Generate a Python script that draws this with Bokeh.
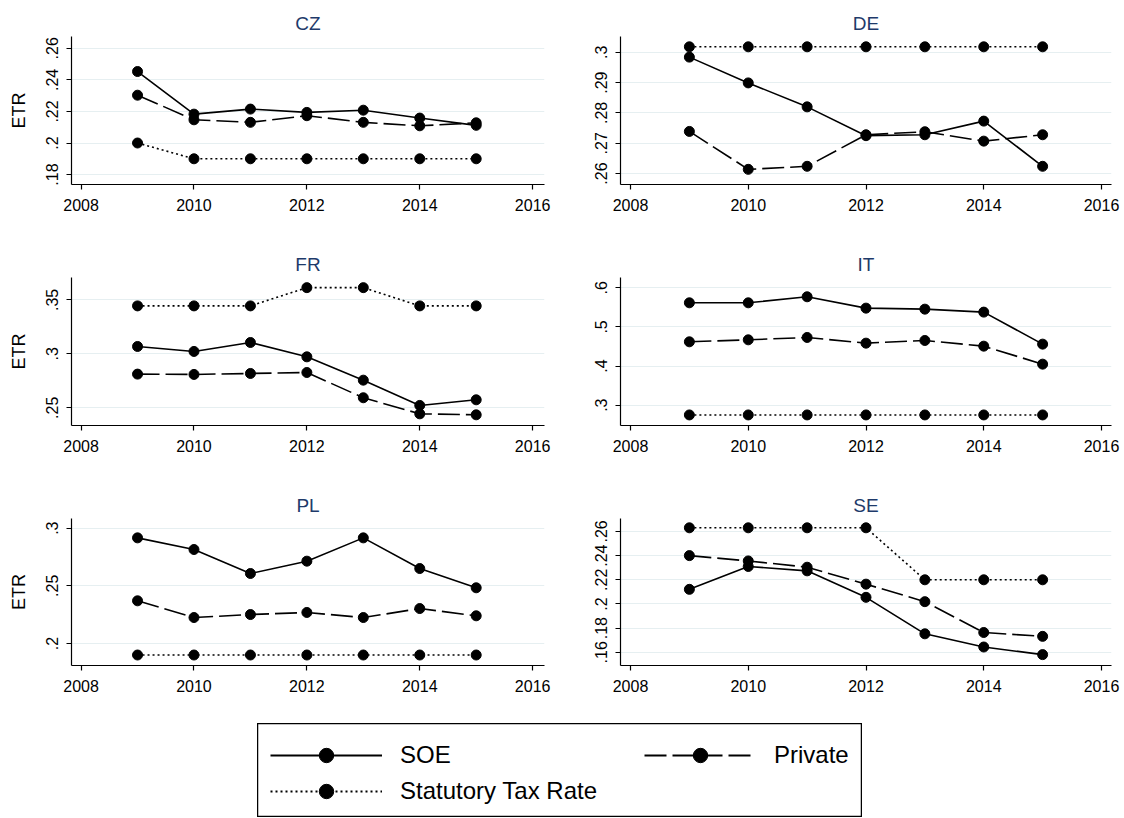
from bokeh.plotting import figure
from bokeh.models import (ColumnDataSource, FixedTicker, CustomJSTickFormatter,
                          Range1d, Legend, LegendItem, Spacer)
from bokeh.layouts import column, row
from bokeh.embed import file_html
from bokeh.resources import INLINE

# ---------------- data ----------------
years = [2009, 2010, 2011, 2012, 2013, 2014, 2015]
x_ticks = [2008, 2010, 2012, 2014, 2016]

cz_soe = [0.2453, 0.2183, 0.2215, 0.2194, 0.2208, 0.2158, 0.2112]
cz_private = [0.2303, 0.2147, 0.2131, 0.2173, 0.2131, 0.2109, 0.2128]
cz_statutory = [0.20, 0.19, 0.19, 0.19, 0.19, 0.19, 0.19]

de_soe = [0.2984, 0.2899, 0.2820, 0.2725, 0.2728, 0.2773, 0.2624]
de_private = [0.2739, 0.2614, 0.2624, 0.2728, 0.2738, 0.2707, 0.2728]
de_statutory = [0.3018, 0.3018, 0.3018, 0.3018, 0.3018, 0.3018, 0.3018]

fr_soe = [0.3068, 0.3022, 0.3105, 0.2972, 0.2756, 0.2522, 0.2574]
fr_private = [0.2812, 0.2809, 0.2818, 0.2827, 0.2593, 0.2444, 0.2435]
fr_statutory = [0.3444, 0.3444, 0.3444, 0.3613, 0.3613, 0.3444, 0.3444]

it_soe = [0.5616, 0.5616, 0.5770, 0.5480, 0.5454, 0.5378, 0.4560]
it_private = [0.4619, 0.4670, 0.4730, 0.4585, 0.4653, 0.4508, 0.4048]
it_statutory = [0.2750, 0.2750, 0.2750, 0.2750, 0.2750, 0.2750, 0.2750]

pl_soe = [0.2916, 0.2815, 0.2607, 0.2714, 0.2916, 0.2650, 0.2483]
pl_private = [0.2370, 0.2225, 0.2251, 0.2269, 0.2225, 0.2303, 0.2240]
pl_statutory = [0.19, 0.19, 0.19, 0.19, 0.19, 0.19, 0.19]

se_soe = [0.2121, 0.2310, 0.2274, 0.2055, 0.1753, 0.1644, 0.1581]
se_private = [0.2400, 0.2356, 0.2304, 0.2164, 0.2019, 0.1764, 0.1732]
se_statutory = [0.263, 0.263, 0.263, 0.263, 0.22, 0.22, 0.22]

cz_yticks = [0.18, 0.20, 0.22, 0.24, 0.26]
de_yticks = [0.26, 0.27, 0.28, 0.29, 0.30]
fr_yticks = [0.25, 0.30, 0.35]
it_yticks = [0.3, 0.4, 0.5, 0.6]
pl_yticks = [0.20, 0.25, 0.30]
se_yticks = [0.16, 0.18, 0.20, 0.22, 0.24, 0.26]

series_names = ["SOE", "Private", "Statutory Tax Rate"]

# ---------------- styling ----------------
FONT = "Liberation Sans"
TITLE_COLOR = "#1e3a6a"
GRID_COLOR = "#e6eff1"
SOE_DASH = "solid"
PRIV_DASH = "22 6"
STAT_DASH = "2 3"
LW = 1.6
MSIZE = 10

fmt = CustomJSTickFormatter(code="""
var s = (Math.round(tick*1000)/1000).toString();
return s.replace(/^0\\./, '.');
""")

panels = [
    ("CZ", cz_soe, cz_private, cz_statutory, cz_yticks, (0.1737, 0.2675)),
    ("DE", de_soe, de_private, de_statutory, de_yticks, (0.2564, 0.3052)),
    ("FR", fr_soe, fr_private, fr_statutory, fr_yticks, (0.2336, 0.3707)),
    ("IT", it_soe, it_private, it_statutory, it_yticks, (0.2480, 0.6263)),
    ("PL", pl_soe, pl_private, pl_statutory, pl_yticks, (0.1809, 0.3084)),
    ("SE", se_soe, se_private, se_statutory, se_yticks, (0.1491, 0.2707)),
]

x_ranges = [(2007.83, 2016.21), (2007.83, 2016.17)]
row_geom = [(36, 148, 56), (37, 148, 56), (37, 147, 58)]   # top, frame h, bottom
col_geom = [(71, 473, 31), (45, 491, 13)]                  # left, frame w, right


def make_panel(i, name, soe, priv, stat, yticks, yr):
    r, c = divmod(i, 2)
    top, fh, bottom = row_geom[r]
    left, fw, right = col_geom[c]
    p = figure(frame_width=fw, frame_height=fh,
               min_border_left=left, min_border_right=right,
               min_border_top=top, min_border_bottom=bottom,
               x_range=Range1d(*x_ranges[c]), y_range=Range1d(*yr),
               output_backend="svg", toolbar_location=None, title=name)
    p.outline_line_color = None
    p.background_fill_color = "white"
    p.border_fill_color = "white"

    p.title.text_font = FONT
    p.title.text_font_size = "19px"
    p.title.text_font_style = "normal"
    p.title.text_color = TITLE_COLOR
    p.title.align = "center"
    p.title.standoff = 6

    p.xaxis.ticker = FixedTicker(ticks=x_ticks)
    p.yaxis.ticker = FixedTicker(ticks=yticks)
    p.yaxis.formatter = fmt
    p.yaxis.major_label_orientation = "vertical"
    for ax in (p.xaxis, p.yaxis):
        ax.axis_line_color = "black"
        ax.axis_line_width = 1.2
        ax.major_tick_line_color = "black"
        ax.major_tick_line_width = 1.2
        ax.major_tick_out = 5
        ax.major_tick_in = 0
        ax.minor_tick_line_color = None
        ax.major_label_text_font = FONT
        ax.major_label_text_font_size = "16px"
        ax.major_label_text_color = "black"
    p.xaxis.major_label_standoff = 9
    p.yaxis.major_label_standoff = 8
    if c == 0:
        p.yaxis.axis_label = "ETR"
        p.yaxis.axis_label_text_font = FONT
        p.yaxis.axis_label_text_font_size = "18px"
        p.yaxis.axis_label_text_font_style = "normal"
        p.yaxis.axis_label_text_color = "black"
        p.yaxis.axis_label_standoff = 15

    p.xgrid.grid_line_color = None
    p.ygrid.grid_line_color = GRID_COLOR
    p.ygrid.grid_line_width = 1.2

    src = ColumnDataSource(dict(year=years, soe=soe, priv=priv, stat=stat))
    for col, dash in (("stat", STAT_DASH), ("priv", PRIV_DASH), ("soe", SOE_DASH)):
        p.line("year", col, source=src, line_color="black", line_width=LW, line_dash=dash)
        p.scatter("year", col, source=src, size=MSIZE, marker="circle",
                  fill_color="black", line_color="black")
    return p


figs = [make_panel(i, *pn) for i, pn in enumerate(panels)]

# ---------------- legend ----------------
LEG_H = 94
lf = figure(width=605, height=LEG_H, x_range=Range1d(0, 1), y_range=Range1d(0, 1),
            x_axis_type=None, y_axis_type=None, min_border=0,
            output_backend="svg", toolbar_location=None)
lf.grid.visible = False
lf.outline_line_color = "black"
lf.outline_line_width = 1.5
lf.border_fill_color = "white"

# legend renderers reuse real series but sit outside the legend box's view
legend_src = ColumnDataSource(dict(year=years, soe=cz_soe, priv=cz_private, stat=cz_statutory))
dashes = [SOE_DASH, PRIV_DASH, STAT_DASH]
cols = ["soe", "priv", "stat"]
items = []
for nm, dash, col in zip(series_names, dashes, cols):
    lr = lf.line("year", col, source=legend_src, line_color="black", line_width=2, line_dash=dash)
    sr = lf.scatter("year", col, source=legend_src, marker="circle",
                    fill_color="black", line_color="black")
    items.append(LegendItem(label=nm, renderers=[lr, sr]))


def mk_legend(its, loc):
    return Legend(items=its, location=loc, orientation="vertical",
                  glyph_width=112, glyph_height=36, label_standoff=18,
                  spacing=0, padding=0, margin=0,
                  label_text_font=FONT, label_text_font_size="24px",
                  label_text_color="black",
                  border_line_color=None, background_fill_alpha=0)


lf.add_layout(mk_legend([items[0], items[2]], (13, LEG_H - 86)))
lf.add_layout(mk_legend([items[1]], (387, LEG_H - 50)))

layout = column(row(figs[0], figs[1]), row(figs[2], figs[3]), row(figs[4], figs[5]),
                row(Spacer(width=257), lf))

html = file_html(layout, INLINE, title="ETR by country")
open("out.html", "w").write(html)
